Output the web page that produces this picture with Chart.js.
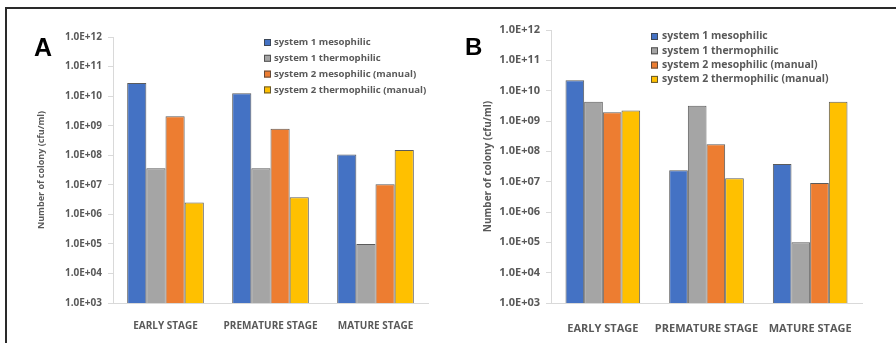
<!DOCTYPE html>
<html><head><meta charset="utf-8">
<script src="https://cdn.jsdelivr.net/npm/chart.js@4.4.0/dist/chart.umd.min.js"></script>
<style>
html,body{margin:0;padding:0;background:#fff;width:896px;height:343px;overflow:hidden;}
#frame{position:absolute;left:5px;top:7px;width:900px;height:400px;border-top:2px solid #2a2a2a;border-left:2px solid #2a2a2a;}
.c{position:absolute;top:0;width:448px;height:343px;}
#ca{left:0;} #cb{left:448px;}
</style></head><body>
<div id="frame"></div>
<div class="c" id="ca"><canvas id="a" width="448" height="343"></canvas></div>
<div class="c" id="cb"><canvas id="b" width="448" height="343"></canvas></div>
<script>
const categories = ['EARLY STAGE', 'PREMATURE STAGE', 'MATURE STAGE'];
const seriesNames = ['system 1 mesophilic', 'system 1 thermophilic', 'system 2 mesophilic (manual)', 'system 2 thermophilic (manual)'];
const seriesColors = ['#4472C4', '#A5A5A5', '#ED7D31', '#FFC000'];
const yTickValues = [1e3, 1e4, 1e5, 1e6, 1e7, 1e8, 1e9, 1e10, 1e11, 1e12];
const yTickLabels = ['1.0E+03', '1.0E+04', '1.0E+05', '1.0E+06', '1.0E+07', '1.0E+08', '1.0E+09', '1.0E+10', '1.0E+11', '1.0E+12'];
const yTitle = 'Number of colony (cfu/ml)';

// Panel A
const A_sys1Meso   = [2.8e10, 1.25e10, 1.05e8];
const A_sys1Thermo = [3.6e7, 3.6e7, 1.0e5];
const A_sys2Meso   = [2.1e9, 7.8e8, 1.05e7];
const A_sys2Thermo = [2.5e6, 3.8e6, 1.5e8];
// Panel B
const B_sys1Meso   = [2.2e10, 2.4e7, 3.8e7];
const B_sys1Thermo = [4.3e9, 3.2e9, 1.0e5];
const B_sys2Meso   = [1.95e9, 1.7e8, 9.0e6];
const B_sys2Thermo = [2.2e9, 1.3e7, 4.3e9];

const FONT = "'Open Sans', 'DejaVu Sans', sans-serif";
const TXT = '#595959';

const customLegend = {
  id: 'customLegend',
  afterDraw(chart, args, o) {
    const ctx = chart.ctx;
    ctx.save();
    ctx.font = `bold ${o.size}px ${FONT}`;
    ctx.textBaseline = 'middle';
    chart.data.datasets.forEach((ds, i) => {
      const y = o.y + i * o.step;
      ctx.fillStyle = ds.backgroundColor;
      ctx.fillRect(o.x, y - o.box / 2, o.box, o.box);
      ctx.strokeStyle = 'rgba(60,60,60,0.8)';
      ctx.lineWidth = 1;
      ctx.strokeRect(o.x + 0.5, y - o.box / 2 + 0.5, o.box - 1, o.box - 1);
      ctx.fillStyle = TXT;
      ctx.fillText(ds.label, o.x + o.box + o.gap, y);
    });
    ctx.fillStyle = '#000';
    ctx.font = `bold ${o.letterSize}px 'Liberation Sans', Arial, sans-serif`;
    ctx.textBaseline = 'alphabetic';
    ctx.fillText(o.letter, o.letterX, o.letterY);
    ctx.restore();
  }
};

function makeChart(id, vals, cfg) {
  new Chart(document.getElementById(id), {
    type: 'bar',
    data: {
      labels: categories,
      datasets: vals.map((v, i) => ({
        label: seriesNames[i], data: v,
        backgroundColor: seriesColors[i],
        borderColor: 'rgba(50,50,50,0.8)', borderWidth: 1,
        barPercentage: 1.0, categoryPercentage: cfg.catPct
      }))
    },
    options: {
      responsive: false, animation: false,
      layout: { padding: { left: 0, right: cfg.padR, top: cfg.padT, bottom: 0 } },
      plugins: {
        legend: { display: false }, tooltip: { enabled: false },
        customLegend: cfg.legend
      },
      scales: {
        x: {
          grid: { display: false },
          border: { display: true, color: '#D9D9D9', width: 1 },
          ticks: { color: TXT, font: { family: FONT, size: cfg.xSize, weight: 'bold' }, padding: cfg.xPad, maxRotation: 0, autoSkip: false },
          afterFit: s => { s.height = cfg.xH; }
        },
        y: {
          type: 'logarithmic', min: 1e3, max: 1e12,
          afterBuildTicks: s => { s.ticks = yTickValues.map(v => ({ value: v })); },
          grid: { display: true, drawOnChartArea: false, drawTicks: true, tickLength: 5, color: '#D9D9D9' },
          border: { display: true, color: '#D9D9D9', width: 1 },
          ticks: {
            color: TXT, font: { family: FONT, size: cfg.ySize, weight: 'bold' }, padding: 6,
            callback: (v) => { const k = yTickValues.indexOf(v); return k >= 0 ? yTickLabels[k] : ''; }
          },
          title: { display: true, text: yTitle, color: TXT, font: { family: FONT, size: cfg.tSize, weight: 'bold' }, padding: { top: cfg.tPad, bottom: 0 } },
          afterFit: s => { s.width = cfg.yW; }
        }
      }
    },
    plugins: [customLegend]
  });
}

makeChart('a', [A_sys1Meso, A_sys1Thermo, A_sys2Meso, A_sys2Thermo], {
  catPct: 0.73, padR: 20, padT: 37, xH: 40, xPad: 9, xSize: 10, ySize: 10, tSize: 9, tPad: 36.5, yW: 113,
  legend: { x: 264, y: 42.5, step: 15.8, box: 7, gap: 3, size: 9.6, letter: 'A', letterX: 34, letterY: 56, letterSize: 25 }
});
makeChart('b', [B_sys1Meso, B_sys1Thermo, B_sys2Meso, B_sys2Thermo], {
  catPct: 0.72, padR: 34, padT: 30, xH: 40, xPad: 11, xSize: 11, ySize: 11, tSize: 10, tPad: 34, yW: 103,
  legend: { x: 203, y: 36.5, step: 14.3, box: 7, gap: 4, size: 10.5, letter: 'B', letterX: 17, letterY: 55, letterSize: 24 }
});
</script>
</body></html>
